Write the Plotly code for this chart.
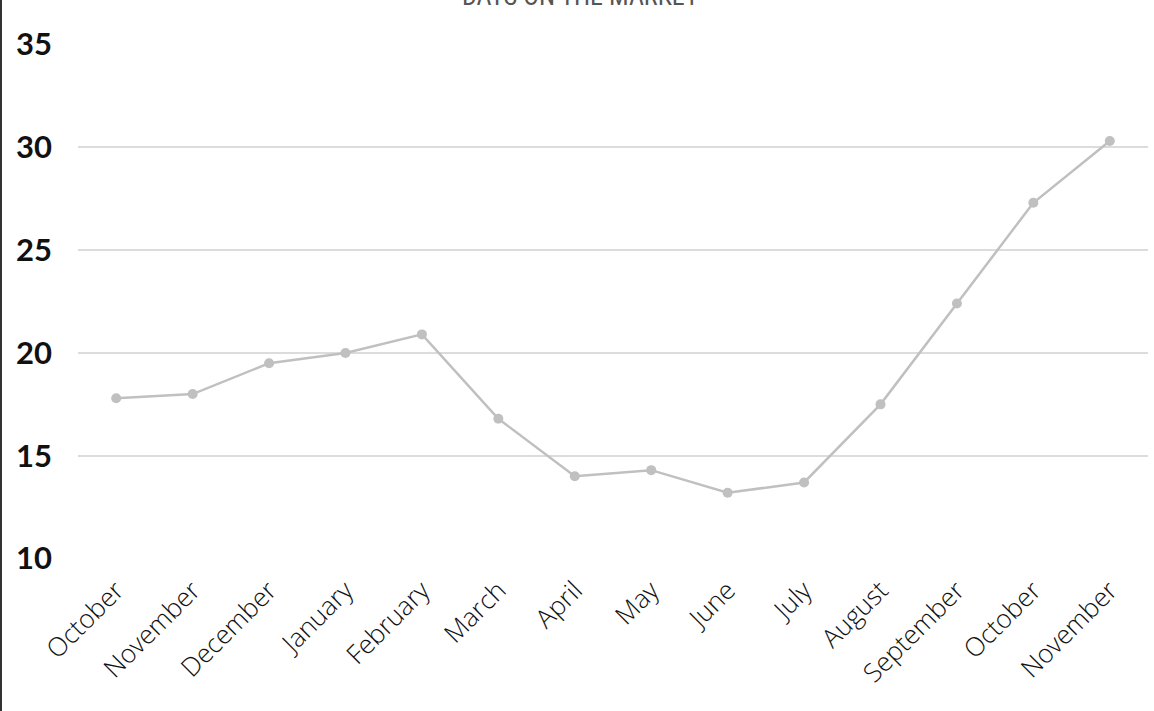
import plotly.graph_objects as go

months = ["October", "November", "December", "January", "February", "March", "April",
          "May", "June", "July", "August", "September", "October", "November"]
days = [17.8, 18.0, 19.5, 20.0, 20.9, 16.8, 14.0, 14.3, 13.2, 13.7, 17.5, 22.4, 27.3, 30.3]
ytick_vals = [10, 15, 20, 25, 30, 35]
title_text = "DAYS ON THE MARKET"

x_idx = list(range(len(months)))

fig = go.Figure()
fig.add_trace(go.Scatter(
    x=x_idx, y=days, mode="lines+markers",
    line=dict(color="#c0c0c0", width=2.5),
    marker=dict(color="#c0c0c0", size=10),
    hoverinfo="skip",
))

W, H = 1154, 711
L, R, T, B = 78, 6, 44, 152
pw = W - L - R

fig.update_layout(
    width=W, height=H,
    margin=dict(l=L, r=R, t=T, b=B),
    paper_bgcolor="white", plot_bgcolor="white",
    showlegend=False,
    xaxis=dict(
        range=[-0.5, len(months) - 0.5],
        tickmode="array", tickvals=x_idx, ticktext=months,
        tickangle=-45, showgrid=False, zeroline=False, showline=False,
        ticks="", tickfont=dict(family="Open Sans, Lato, sans-serif", size=26, color="#111", weight=300),
        ticklabelstandoff=10,
    ),
    yaxis=dict(
        range=[9.98, 35.02],
        tickmode="array", tickvals=ytick_vals, ticktext=[str(v) for v in ytick_vals],
        showgrid=True, gridcolor="#dcdcdc", gridwidth=1.5,
        zeroline=False, showline=False, ticks="",
        tickfont=dict(family="Lato, sans-serif", size=31, color="#111", weight=700),
        ticklabelstandoff=25,
    ),
    annotations=[dict(
        text=title_text, xref="paper", yref="paper", x=(580 - L) / pw, y=1,
        xanchor="center", yanchor="bottom", yshift=T - 13, showarrow=False,
        font=dict(family="Liberation Sans Narrow, Roboto Condensed, sans-serif", size=26, color="#555"),
    )],
    shapes=[dict(
        type="line", xref="paper", yref="paper",
        x0=-(L - 1) / pw, x1=-(L - 1) / pw, y0=-0.5, y1=1.5,
        line=dict(color="#333", width=2),
    )],
)

fig.write_html("out.html", config={"displayModeBar": False},
               post_script="document.body.style.margin='0px';document.body.style.overflow='hidden';")
